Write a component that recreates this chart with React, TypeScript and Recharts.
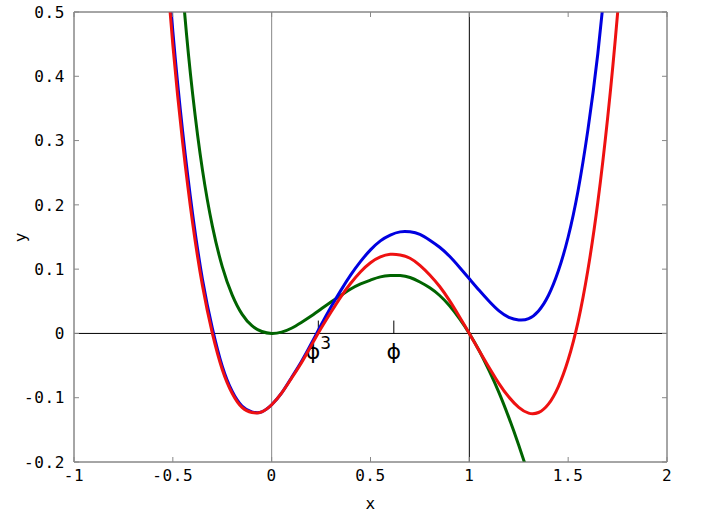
import React from 'react';
import { LineChart, Line, XAxis, YAxis, ReferenceLine, ReferenceArea } from 'recharts';

// valores
const xs = [-0.55, -0.5, -0.45, -0.4, -0.35, -0.3, -0.25, -0.2, -0.15, -0.1, -0.05, 0, 0.05, 0.1, 0.15, 0.2, 0.25, 0.3, 0.35, 0.4, 0.45, 0.5, 0.55, 0.6, 0.65, 0.7, 0.75, 0.8, 0.85, 0.9, 0.95, 1, 1.05, 1.1, 1.15, 1.2, 1.25, 1.3, 1.35, 1.4, 1.45, 1.5, 1.55, 1.6, 1.65, 1.7, 1.75, 1.8];

const red = [0.635, 0.449, 0.296, 0.172, 0.074, 0, -0.056, -0.093, -0.115, -0.123, -0.122, -0.111, -0.093, -0.07, -0.046, -0.019, 0.008, 0.033, 0.057, 0.078, 0.096, 0.11, 0.119, 0.123, 0.122, 0.117, 0.106, 0.091, 0.073, 0.051, 0.026, 0, -0.027, -0.053, -0.078, -0.099, -0.115, -0.124, -0.123, -0.11, -0.083, -0.041, 0.018, 0.099, 0.204, 0.336, 0.498, 0.693];

const blue = [0.661, 0.47, 0.313, 0.186, 0.084, 0.008, -0.051, -0.09, -0.113, -0.122, -0.122, -0.111, -0.093, -0.069, -0.044, -0.016, 0.013, 0.041, 0.067, 0.091, 0.112, 0.13, 0.144, 0.153, 0.158, 0.158, 0.154, 0.145, 0.134, 0.12, 0.103, 0.085, 0.067, 0.05, 0.035, 0.025, 0.021, 0.023, 0.035, 0.059, 0.097, 0.15, 0.222, 0.317, 0.435, 0.582, null, null];

const green = [null, 0.75, 0.534, 0.373, 0.254, 0.167, 0.104, 0.06, 0.03, 0.012, 0.003, 0, 0.002, 0.008, 0.017, 0.027, 0.038, 0.049, 0.059, 0.069, 0.077, 0.083, 0.088, 0.09, 0.09, 0.087, 0.08, 0.071, 0.059, 0.043, 0.023, 0, -0.027, -0.058, -0.092, -0.131, -0.174, -0.22, null, null, null, null, null, null, null, null, null, null];

const xTicks = [-1, -0.5, 0, 0.5, 1, 1.5, 2];
const yTicks = [-0.2, -0.1, 0, 0.1, 0.2, 0.3, 0.4, 0.5];

// marcas especiales sobre el eje
const phi3 = 0.236;
const phi = 0.618;

const data = xs.map((x, i) => ({ x, red: red[i], blue: blue[i], green: green[i] }));

const font = { fontFamily: '"DejaVu Sans Mono", monospace', fontSize: 16, fill: '#000', letterSpacing: 0.6 };

const PhiLabel = (props: any) => {
  const vb = props.viewBox || {};
  const x = vb.x ?? 0;
  const y = (vb.y ?? 0) + (vb.height ?? 0);
  return (
    <text x={x} y={y + 26} textAnchor="middle" fontFamily="DejaVu Sans" fontSize={22} fill="#000">
      ϕ
      {props.sup ? <tspan dx={0} dy={-10} fontSize={17}>{props.sup}</tspan> : null}
    </text>
  );
};

const YLabel = (props: any) => {
  const vb = props.viewBox || {};
  const x = (vb.x ?? 0) + 6;
  const y = (vb.y ?? 0) + (vb.height ?? 0) / 2;
  return (
    <text x={x} y={y} transform={`rotate(-90 ${x} ${y})`} textAnchor="middle" dominantBaseline="central" {...font}>
      y
    </text>
  );
};

export default function App() {
  return (
    <div style={{ position: 'absolute', left: 0, top: 0, width: 716, height: 519, background: '#fff' }}>
      <LineChart width={716} height={519} data={data} margin={{ top: 11, right: 48, left: 14, bottom: 12 }}>
        <XAxis
          dataKey="x"
          type="number"
          domain={[-1, 2]}
          ticks={xTicks}
          allowDataOverflow
          height={45}
          tickSize={-5}
          tickMargin={13}
          stroke="#888"
          tick={font}
          tickFormatter={(v) => String(v)}
          label={{ value: 'x', position: 'insideBottom', offset: -2, style: font }}
        />
        <XAxis
          xAxisId="top"
          dataKey="x"
          orientation="top"
          type="number"
          domain={[-1, 2]}
          ticks={xTicks}
          allowDataOverflow
          height={1}
          tickSize={-5}
          stroke="#888"
          tickFormatter={() => ''}
        />
        <YAxis
          type="number"
          domain={[-0.2, 0.5]}
          ticks={yTicks}
          allowDataOverflow
          width={60}
          tickSize={-5}
          tickMargin={14}
          stroke="#888"
          tick={font}
          tickFormatter={(v) => String(v)}
          label={<YLabel />}
        />
        <YAxis
          yAxisId="right"
          orientation="right"
          type="number"
          domain={[-0.2, 0.5]}
          ticks={yTicks}
          allowDataOverflow
          width={1}
          tickSize={-5}
          stroke="#888"
          tickFormatter={() => ''}
        />
        <ReferenceArea x1={-1} x2={2} y1={-0.2} y2={0.5} fill="none" stroke="#888" strokeOpacity={1} />
        <ReferenceLine x={0} stroke="#888" />
        <ReferenceLine x={1} stroke="#000" />
        <ReferenceLine y={0} stroke="#000" />
        <ReferenceLine segment={[{ x: phi3, y: 0 }, { x: phi3, y: 0.02 }]} stroke="#000" label={<PhiLabel sup="3" />} />
        <ReferenceLine segment={[{ x: phi, y: 0 }, { x: phi, y: 0.02 }]} stroke="#000" label={<PhiLabel />} />
        <Line type="natural" dataKey="green" stroke="#006400" strokeWidth={3} dot={false} isAnimationActive={false} />
        <Line type="natural" dataKey="blue" stroke="#0000e0" strokeWidth={3} dot={false} isAnimationActive={false} />
        <Line type="natural" dataKey="red" stroke="#ee1111" strokeWidth={3} dot={false} isAnimationActive={false} />
      </LineChart>
    </div>
  );
}
